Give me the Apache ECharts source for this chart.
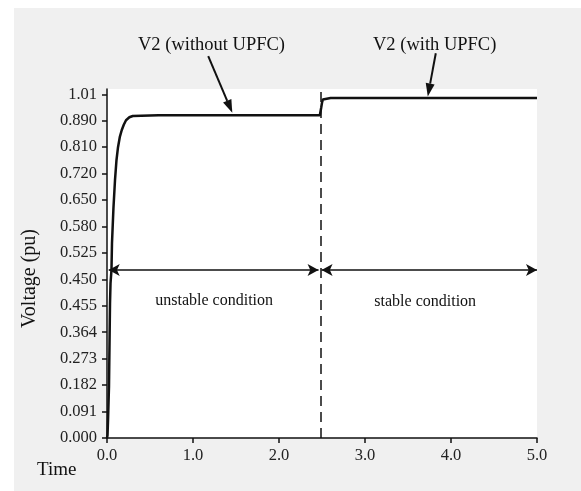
<!DOCTYPE html>
<html><head><meta charset="utf-8">
<script src="https://cdn.jsdelivr.net/npm/echarts@6/dist/echarts.min.js"></script>
<style>
html,body{margin:0;padding:0;background:#fff;}
#c{position:absolute;left:14px;top:8px;width:567px;height:483px;}
</style></head>
<body><div id="c"></div>
<script>
// Printed y tick labels (evenly spaced on the axis, bottom to top)
const yTickLabels = ['0.000','0.091','0.182','0.273','0.364','0.455','0.450','0.525','0.580','0.650','0.720','0.810','0.890','1.01'];
const xTickLabels = ['0.0','1.0','2.0','3.0','4.0','5.0'];
// Time (s)
const timeS = [0, 0.006, 0.012, 0.023, 0.035, 0.041, 0.052, 0.058, 0.075, 0.093, 0.11, 0.128, 0.15, 0.171, 0.195, 0.221, 0.26, 0.30, 0.6, 1.0, 1.5, 2.0, 2.475, 2.482, 2.49, 2.50, 2.51, 2.53, 2.6, 3.0, 3.5, 4.0, 4.5, 5.0];
// V2 level, expressed in steps of the printed y scale (0 = "0.000", 13 = "1.01")
const v2Level = [0, 0.1, 0.68, 1.93, 5.1, 5.86, 6.35, 7.37, 8.7, 9.75, 10.5, 11.0, 11.4, 11.64, 11.85, 12.02, 12.13, 12.18, 12.21, 12.21, 12.21, 12.21, 12.21, 12.28, 12.48, 12.68, 12.8, 12.86, 12.86, 12.86, 12.86, 12.86, 12.86, 12.86];
const faultTime = 2.48;
const conditionArrowLevel = 6.35;
const annotations = [
  {text: 'V2 (without UPFC)', textTime: 1.215, textLevel: 14.85, from: [1.177, 14.44], to: [1.457, 12.3]},
  {text: 'V2 (with UPFC)', textTime: 3.81, textLevel: 14.85, from: [3.823, 14.55], to: [3.73, 12.92]}
];
const conditions = [
  {text: 'unstable condition', from: 0.02, to: 2.46, labelTime: 1.246, labelLevel: 5.2},
  {text: 'stable condition', from: 2.495, to: 5.0, labelTime: 3.70, labelLevel: 5.15}
];

const serif = 'Liberation Serif';
const chart = echarts.init(document.getElementById('c'));
const lineData = timeS.map((t, i) => [t, v2Level[i]]);
const yIdx = yTickLabels.map((_, i) => i);

const markData = [];
conditions.forEach(c => markData.push([{coord: [c.from, conditionArrowLevel], symbol: 'arrow', symbolSize: [9, 11], symbolRotate: 90}, {coord: [c.to, conditionArrowLevel], symbol: 'arrow', symbolSize: [9, 11]}]));
markData.push([{coord: [faultTime, 0], symbol: 'none'}, {coord: [faultTime, 13.2], symbol: 'none', lineStyle: {type: [10, 6], width: 1.5}}]);

chart.setOption({
  backgroundColor: '#f0f0f0',
  animation: false,
  grid: {left: 93, top: 81, right: 44, bottom: 53, show: true, backgroundColor: '#fff', borderWidth: 0},
  xAxis: {
    type: 'value', min: 0, max: 5, interval: 1,
    axisLine: {lineStyle: {color: '#111', width: 1.5}},
    axisTick: {show: true, length: 5, lineStyle: {color: '#111', width: 1.5}},
    axisLabel: {margin: 9, fontFamily: serif, fontSize: 16.5, color: '#222', formatter: v => xTickLabels[Math.round(v)] || ''},
    splitLine: {show: false}
  },
  yAxis: {
    type: 'value', min: 0, max: 13.2,
    axisLine: {show: true, lineStyle: {color: '#111', width: 1.5}},
    axisTick: {show: true, length: 5, customValues: yIdx, lineStyle: {color: '#111', width: 1.5}},
    axisLabel: {margin: 10, fontFamily: serif, fontSize: 16.5, color: '#222', customValues: yIdx, formatter: v => yTickLabels[Math.round(v)] || ''},
    splitLine: {show: false}
  },
  series: [{
    type: 'line', data: lineData, showSymbol: false, clip: false,
    lineStyle: {color: '#111', width: 2.5},
    markLine: {
      silent: true, animation: false, symbol: 'none',
      lineStyle: {color: '#111', width: 1.5, type: 'solid'},
      label: {show: false},
      data: markData
    }
  }]
});

// Annotation arrows and texts, positioned through the chart's own scales
const px = c => chart.convertToPixel({gridIndex: 0}, c);
const graphics = [];
annotations.forEach(a => {
  const p0 = px(a.from), p1 = px(a.to);
  const dx = p1[0] - p0[0], dy = p1[1] - p0[1], L = Math.hypot(dx, dy);
  const ux = dx / L, uy = dy / L, hl = 13, hw = 4.5;
  const bx = p1[0] - ux * hl, by = p1[1] - uy * hl;
  graphics.push({type: 'line', shape: {x1: p0[0], y1: p0[1], x2: bx, y2: by}, style: {stroke: '#111', lineWidth: 2}});
  graphics.push({type: 'polygon', shape: {points: [[p1[0], p1[1]], [bx - uy * hw, by + ux * hw], [bx + uy * hw, by - ux * hw]]}, style: {fill: '#111'}});
  const pt = px([a.textTime, a.textLevel]);
  graphics.push({type: 'text', x: pt[0], y: pt[1], style: {text: a.text, font: '18.5px "Liberation Serif"', fill: '#111', align: 'center', verticalAlign: 'middle'}});
});
conditions.forEach(c => {
  const p = px([c.labelTime, c.labelLevel]);
  graphics.push({type: 'text', x: p[0], y: p[1], style: {text: c.text, font: '16px "Liberation Serif"', fill: '#111', align: 'center', verticalAlign: 'middle'}});
});
graphics.push({type: 'text', x: 37 - 14, y: 470 - 8, style: {text: 'Time', font: '19px "Liberation Serif"', fill: '#111', verticalAlign: 'middle'}});
graphics.push({type: 'text', x: 29.5 - 14, y: 278.5 - 8, rotation: Math.PI / 2, style: {text: 'Voltage (pu)', font: '20px "Liberation Serif"', fill: '#111', align: 'center', verticalAlign: 'middle'}});
chart.setOption({graphic: graphics});
</script></body></html>
